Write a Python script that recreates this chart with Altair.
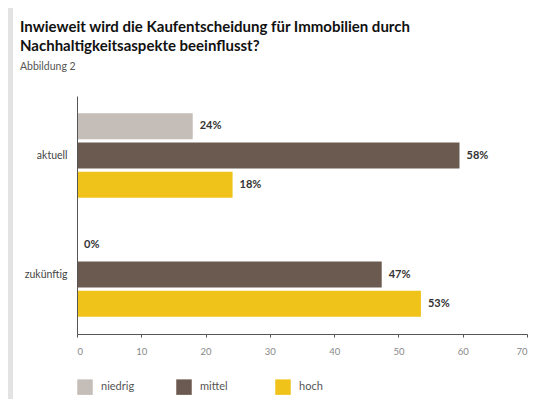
import altair as alt
import pandas as pd

groups = ["aktuell", "zukünftig"]
levels = ["niedrig", "mittel", "hoch"]
aktuell_values = [18.0, 59.5, 24.2]
zukunft_values = [0.0, 47.4, 53.5]
aktuell_labels = ["24%", "58%", "18%"]
zukunft_labels = ["0%", "47%", "53%"]
colors = ["#c4bdb8", "#6b5a50", "#f0c31a"]
x_ticks = [0, 10, 20, 30, 40, 50, 60, 70]

rows = []
for g, vals, labs in [(groups[0], aktuell_values, aktuell_labels),
                      (groups[1], zukunft_values, zukunft_labels)]:
    for lvl, v, l in zip(levels, vals, labs):
        rows.append({"Zeitpunkt": g, "Stufe": lvl, "Wert": v, "Label": l})
df = pd.DataFrame(rows)

FONT = "Lato"
W, H = 450, 238
PL, PT, PR, PB = 69, 88, 9, 65

y_enc = alt.Y("Zeitpunkt:N", sort=groups,
              scale=alt.Scale(paddingInner=0.29, paddingOuter=0.145),
              axis=alt.Axis(title=None, ticks=False, labelPadding=10, labelFontSize=10.5,
                            labelColor="#444", domainColor="#555", labelFont=FONT, zindex=1))
yoff = alt.YOffset("Stufe:N", sort=levels, scale=alt.Scale(paddingInner=0.11, paddingOuter=0))
x_enc = alt.X("Wert:Q", scale=alt.Scale(domain=[0, 70], nice=False),
              axis=alt.Axis(title=None, values=x_ticks, grid=False, tickSize=3,
                            tickColor="#555", domainColor="#555", labelPadding=9,
                            labelFontSize=9.5, labelColor="#888", labelFont=FONT, zindex=1))

bg = alt.Chart(pd.DataFrame({"a": [0]})).mark_rect(color="white").encode(
    x=alt.value(-64), x2=alt.value(W + PR), y=alt.value(-PT), y2=alt.value(H + PB))

bars = alt.Chart(df).mark_bar().encode(
    x=x_enc, y=y_enc, yOffset=yoff,
    color=alt.Color("Stufe:N", sort=levels,
                    scale=alt.Scale(domain=levels, range=colors),
                    legend=alt.Legend(title=None, orient="none", legendX=0, legendY=283,
                                      direction="horizontal", columns=3, symbolType="square",
                                      symbolSize=240, symbolStrokeWidth=0, symbolOpacity=1,
                                      labelFontSize=11, labelColor="#555", labelFont=FONT,
                                      labelOffset=8, columnPadding=41, gridAlign="all",
                                      zindex=1)))

labels = alt.Chart(df).mark_text(align="left", baseline="middle", dx=7, fontWeight="bold",
                                 fontSize=11, color="#333", font=FONT).encode(
    x=alt.X("Wert:Q"), y=alt.Y("Zeitpunkt:N", sort=groups), yOffset=alt.YOffset("Stufe:N", sort=levels),
    text="Label:N")

chart = alt.layer(bg, bars, labels).properties(
    width=W, height=H,
    autosize=alt.AutoSizeParams(type="none"),
    padding={"left": PL, "top": PT, "right": PR, "bottom": PB},
    background="#e3e3e3",
    title=alt.TitleParams(
        text=["Inwieweit wird die Kaufentscheidung für Immobilien durch",
              "Nachhaltigkeitsaspekte beeinflusst?"],
        subtitle="Abbildung 2", anchor="start", frame="group", dx=-57, offset=-64,
        fontSize=15, font=FONT, fontWeight="bold", color="#111", lineHeight=19,
        subtitleFontSize=10.5, subtitleColor="#555", subtitleFont=FONT, subtitlePadding=8,
        zindex=1),
).configure_view(stroke=None)

chart.save("out.html", embed_options={"renderer": "svg", "actions": False})
